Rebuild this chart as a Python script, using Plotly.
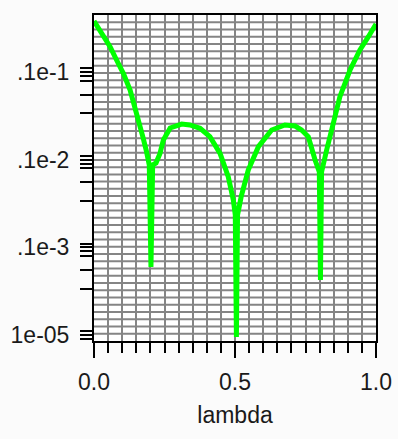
import plotly.graph_objects as go

# data
lam = [0.0, 0.033, 0.057, 0.080, 0.104, 0.128, 0.145, 0.163, 0.173, 0.185,
       0.196, 0.202, 0.208, 0.220, 0.234, 0.246, 0.270, 0.311, 0.340, 0.376,
       0.411, 0.447, 0.476, 0.494, 0.501, 0.505, 0.509, 0.522, 0.547, 0.583,
       0.630, 0.677, 0.713, 0.736, 0.760, 0.784, 0.799, 0.803, 0.807, 0.825,
       0.849, 0.872, 0.908, 0.943, 0.973, 1.0]
val = [0.0382, 0.0264, 0.0194, 0.0137, 0.00966, 0.00623, 0.00402, 0.00262, 0.00183, 0.00129,
       0.00087, 5.98e-5, 0.00087, 0.000917, 0.00118, 0.00168, 0.00230, 0.00255, 0.00249, 0.00228,
       0.00183, 0.00118, 0.00064, 0.000347, 0.000234, 9.51e-6, 0.000234, 0.000379, 0.000763, 0.00141,
       0.00218, 0.00249, 0.00242, 0.00218, 0.00183, 0.000992, 0.000724, 4.25e-5, 0.000724, 0.00129,
       0.00260, 0.00523, 0.01054, 0.01782, 0.02526, 0.03526]

x_tickvals = [0.0, 0.5, 1.0]
x_ticktext = ["0.0", "0.5", "1.0"]
y_tickvals = [1e-5, 1e-4, 1e-3, 1e-2]
y_ticktext = ["1e-05", ".1e-3", ".1e-2", ".1e-1"]
y_minor = [1.1e-5, 0.9e-5,
           1.1e-4, 0.9e-4, 0.8e-4, 0.55e-4, 0.34e-4,
           1.1e-3, 0.9e-3, 0.8e-3, 0.55e-3, 0.34e-3,
           1.1e-2, 0.9e-2, 0.8e-2, 0.55e-2, 0.34e-2]
N_HGRID = 45  # uniform horizontal grid divisions

GRID = "#858585"
FONT = dict(family="Liberation Sans, Arial, sans-serif", size=23, color="#1a1a1a")
YRANGE = [-5.067, -1.350]

fig = go.Figure()
fig.add_trace(go.Scatter(x=lam, y=val, mode="lines",
                         line=dict(color="#00ff00", width=5),
                         showlegend=False, hoverinfo="skip"))

for k in range(1, N_HGRID):
    fig.add_shape(type="line", xref="x domain", yref="y domain",
                  x0=0, x1=1, y0=k / N_HGRID, y1=k / N_HGRID,
                  line=dict(color=GRID, width=2), layer="below")

fig.update_layout(
    width=398, height=439,
    margin=dict(l=94, r=22, t=15, b=98),
    paper_bgcolor="#fbfbfb", plot_bgcolor="#ffffff",
    font=FONT,
    xaxis=dict(range=[0, 1], tickmode="array", tickvals=x_tickvals, ticktext=x_ticktext,
               automargin=False,
               ticks="outside", ticklen=15, tickwidth=2, tickcolor="black",
               showline=True, linecolor="black", linewidth=2, mirror=True,
               showgrid=True, gridcolor=GRID, gridwidth=2, zeroline=False,
               minor=dict(dtick=0.05, tick0=0, ticks="outside", ticklen=10, tickwidth=2,
                          tickcolor="black", showgrid=True, gridcolor=GRID, gridwidth=2),
               ticklabelstandoff=4,
               title=dict(text="lambda", font=FONT, standoff=13)),
    yaxis=dict(type="log", range=YRANGE, tickmode="array",
               tickvals=y_tickvals, ticktext=y_ticktext, automargin=False,
               ticks="outside", ticklen=12, tickwidth=2, tickcolor="black",
               showline=True, linecolor="black", linewidth=2, mirror=True,
               showgrid=False, zeroline=False, ticklabelstandoff=6,
               minor=dict(tickmode="array", tickvals=y_minor, ticks="outside", ticklen=12,
                          tickwidth=2, tickcolor="black", showgrid=False)),
)

fig.write_html("out.html")
